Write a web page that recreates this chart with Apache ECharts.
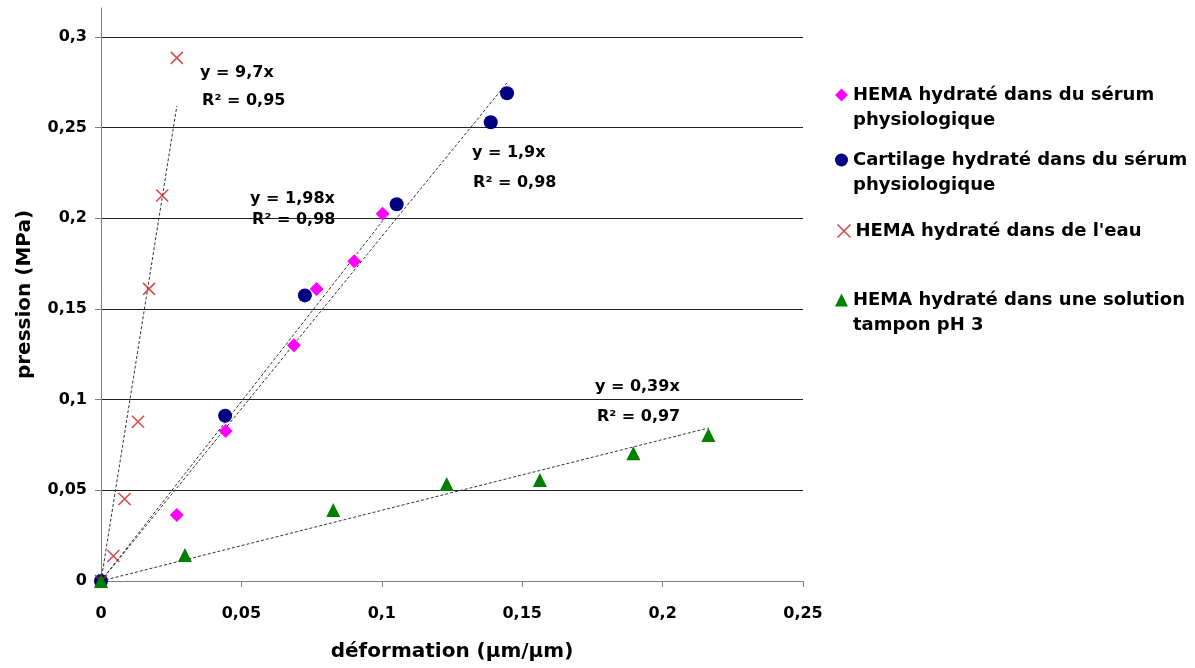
<!DOCTYPE html>
<html>
<head>
<meta charset="utf-8">
<script src="https://cdn.jsdelivr.net/npm/echarts@6/dist/echarts.min.js"></script>
<style>
html,body{margin:0;padding:0;background:#fff;}
#chart{width:1195px;height:668px;}
</style>
</head>
<body>
<div id="chart"></div>
<script>
// ---- data ----
const seriesNames = [
  "HEMA hydraté dans du sérum physiologique",
  "Cartilage hydraté dans du sérum physiologique",
  "HEMA hydraté dans de l'eau",
  "HEMA hydraté dans une solution tampon pH 3"
];
const legendLine1 = ["HEMA hydraté dans du sérum", "Cartilage hydraté dans du sérum", "HEMA hydraté dans de l'eau", "HEMA hydraté dans une solution"];
const legendLine2 = ["physiologique", "physiologique", "", "tampon pH 3"];
const hemaSerumX = [0, 0.027, 0.0444, 0.0687, 0.0768, 0.0902, 0.1003];
const hemaSerumY = [0, 0.0364, 0.0827, 0.130, 0.161, 0.1764, 0.2025];
const cartX = [0, 0.0442, 0.0726, 0.1053, 0.1388, 0.1446];
const cartY = [0, 0.0911, 0.1575, 0.2078, 0.253, 0.269];
const eauX = [0, 0.0044, 0.0084, 0.0132, 0.0171, 0.0218, 0.027];
const eauY = [0, 0.0138, 0.0452, 0.0878, 0.1611, 0.2126, 0.2885];
const tamponX = [0, 0.0299, 0.0827, 0.1231, 0.1563, 0.1896, 0.2163];
const tamponY = [0, 0.0143, 0.0391, 0.0535, 0.0557, 0.0704, 0.0805];
const trendSlopes = [1.98, 1.9, 9.7, 0.39];
const annotText = ["y = 9,7x", "R² = 0,95", "y = 1,98x", "R² = 0,98", "y = 1,9x", "R² = 0,98", "y = 0,39x", "R² = 0,97"];
const annotX = [0.0353, 0.0360, 0.0531, 0.0538, 0.1321, 0.1325, 0.1759, 0.1766];
const annotY = [0.280, 0.2646, 0.2106, 0.199, 0.2359, 0.2194, 0.1069, 0.0904];
const xTicks = [0, 0.05, 0.1, 0.15, 0.2, 0.25];
const yTicks = [0, 0.05, 0.1, 0.15, 0.2, 0.25, 0.3];

// ---- build ----
const FONT = "'DejaVu Sans', sans-serif";
const colors = ['#FF00FF', '#000080', '#CC2020', '#008000'];
const symbols = ['diamond', 'circle', 'path://M0,0 L10,10 M10,0 L0,10', 'triangle'];
const sizes = [14, 14, 12, 14];
const xs = [hemaSerumX, cartX, eauX, tamponX];
const ys = [hemaSerumY, cartY, eauY, tamponY];
const fmt = v => String(+(+v).toFixed(3)).replace('.', ',');

const series = [];
for (let i = 0; i < 4; i++) {
  const xmax = Math.max(...xs[i]);
  series.push({
    type: 'line', name: 'trend' + i, silent: true, symbol: 'none', z: 3,
    data: [[0, 0], [xmax, trendSlopes[i] * xmax]],
    lineStyle: {color: '#333', width: 1, type: [3, 2]}
  });
}
for (let i = 0; i < 4; i++) {
  const isX = i === 2;
  series.push({
    type: 'scatter', name: seriesNames[i], z: 4,
    symbol: symbols[i], symbolSize: sizes[i],
    data: xs[i].map((x, k) => [x, ys[i][k]]),
    itemStyle: isX ? {color: 'none', borderColor: colors[i], borderWidth: 1.6}
                   : {color: colors[i], opacity: 1}
  });
}
series.push({
  type: 'scatter', name: 'annot', silent: true, symbolSize: 0, z: 5,
  data: annotX.map((x, k) => ({value: [x, annotY[k]], label: {formatter: annotText[k]}})),
  label: {show: true, position: 'right', distance: 0, color: '#000', opacity: 1, fontFamily: FONT,
          fontWeight: 'bold', fontSize: 16, align: 'left', verticalAlign: 'middle'}
});

const legendCenters = [95, 160, 231, 300];
const legends = legendLine1.map((txt, i) => ({
  data: [{name: seriesNames[i], icon: symbols[i],
          itemStyle: i === 2 ? {color: 'none', borderColor: colors[i], borderWidth: 1.6} : {color: colors[i]}}],
  left: 835, top: legendCenters[i] - 12,
  orient: 'vertical', padding: 0, itemWidth: 13, itemHeight: 13,
  selectedMode: false,
  formatter: () => txt,
  textStyle: {fontFamily: FONT, fontWeight: 'bold', fontSize: 18, color: '#000', lineHeight: 24}
}));
const graphics = legendLine2.map((txt, i) => ({
  type: 'text', left: 853, top: legendCenters[i] + 16, silent: true,
  style: {text: txt, fill: '#000', font: "bold 18px 'DejaVu Sans', sans-serif"}
})).filter(g => g.style.text);

const chart = echarts.init(document.getElementById('chart'), null, {renderer: 'canvas'});
chart.setOption({
  animation: false,
  backgroundColor: '#fff',
  grid: {left: 101, right: 392, top: 8, bottom: 87, containLabel: false, outerBoundsMode: 'none'},
  legend: legends,
  graphic: graphics,
  xAxis: {
    type: 'value', min: 0, max: 0.25, interval: 0.05,
    name: 'déformation (µm/µm)', nameLocation: 'middle', nameGap: 61,
    nameTextStyle: {fontFamily: FONT, fontWeight: 'bold', fontSize: 20, color: '#000'},
    axisLine: {show: true, onZero: false, lineStyle: {color: '#808080', width: 1}},
    axisTick: {show: true, inside: false, length: 6, lineStyle: {color: '#808080'}},
    axisLabel: {formatter: fmt, fontFamily: FONT, fontWeight: 'bold', fontSize: 16, color: '#000', margin: 25},
    splitLine: {show: false}
  },
  yAxis: {
    type: 'value', min: 0, max: 0.316, interval: 0.05,
    name: 'pression (MPa)', nameLocation: 'middle', nameGap: 66, nameRotate: 90,
    nameTextStyle: {fontFamily: FONT, fontWeight: 'bold', fontSize: 20, color: '#000'},
    axisLine: {show: true, onZero: false, lineStyle: {color: '#808080', width: 1}},
    axisTick: {show: true, inside: false, length: 6, lineStyle: {color: '#808080'}, customValues: yTicks},
    axisLabel: {formatter: fmt, fontFamily: FONT, fontWeight: 'bold', fontSize: 16, color: '#000', margin: 14,
                customValues: yTicks},
    splitLine: {show: true, lineStyle: {color: '#222', width: 1}}
  },
  series: series
});
</script>
</body>
</html>
